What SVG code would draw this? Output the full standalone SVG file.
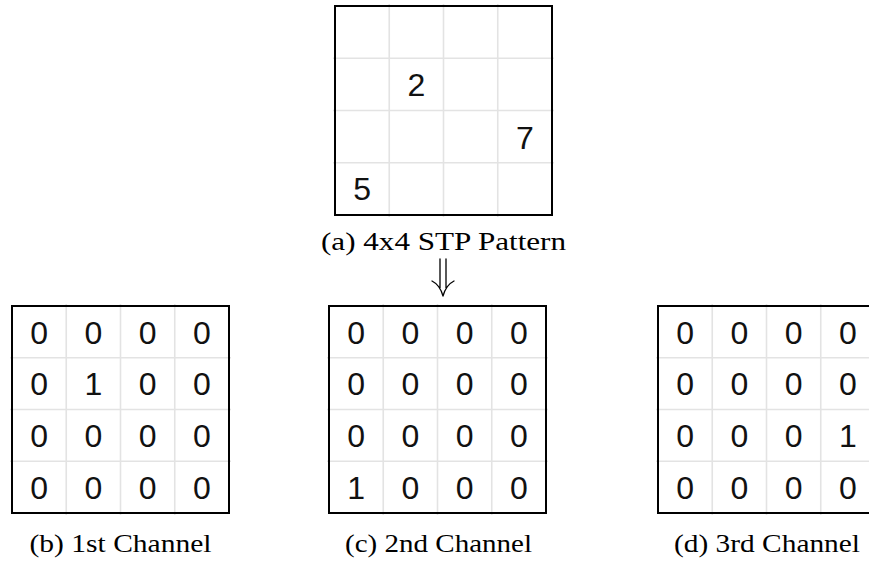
<svg xmlns="http://www.w3.org/2000/svg" width="869" height="563" viewBox="0 0 869 563">
<style>
.bg{fill:#ffffff}
.grid{stroke:#e3e3e3;stroke-width:1.6;fill:none}
.frame{stroke:#000000;stroke-width:2;fill:none}
.num{font-family:"Liberation Sans",Arial,sans-serif;font-size:32px;fill:#111111;text-anchor:middle}
.cap{font-family:"Liberation Serif","Times New Roman",serif;font-size:25px;fill:#000000;text-anchor:middle}
.arrow{stroke:#000000;stroke-width:1.3;fill:none;stroke-linecap:round;stroke-linejoin:round}
</style>
<rect class="bg" x="0" y="0" width="869" height="563"/>

<g id="pattern">
  <path class="grid" d="M389.25,4V217M443.5,4V217M497.75,4V217M333,58.25H554M333,110.5H554M333,162.75H554"/>
  <rect class="frame" x="335" y="6" width="217" height="209"/>
  <text class="num" x="416.4" y="96">2</text>
  <text class="num" x="524.9" y="149">7</text>
  <text class="num" x="362.1" y="200">5</text>
  <text class="cap" x="443.5" y="250" textLength="245" lengthAdjust="spacingAndGlyphs">(a) 4x4 STP Pattern</text>
</g>

<g id="channel1">
  <path class="grid" d="M66.25,304V515M120.5,304V515M174.75,304V515M10,357.75H231M10,409.5H231M10,461.25H231"/>
  <rect class="frame" x="12" y="306" width="217" height="207"/>
  <g class="num">
    <text x="39.1" y="343.5">0</text><text x="93.4" y="343.5">0</text><text x="147.6" y="343.5">0</text><text x="201.9" y="343.5">0</text>
    <text x="39.1" y="395.2">0</text><text x="93.4" y="395.2">1</text><text x="147.6" y="395.2">0</text><text x="201.9" y="395.2">0</text>
    <text x="39.1" y="447">0</text><text x="93.4" y="447">0</text><text x="147.6" y="447">0</text><text x="201.9" y="447">0</text>
    <text x="39.1" y="498.7">0</text><text x="93.4" y="498.7">0</text><text x="147.6" y="498.7">0</text><text x="201.9" y="498.7">0</text>
  </g>
  <text class="cap" x="120.5" y="552" textLength="182" lengthAdjust="spacingAndGlyphs">(b) 1st Channel</text>
</g>

<g id="channel2">
  <path class="grid" d="M383.25,304V515M437.5,304V515M491.75,304V515M327,357.75H548M327,409.5H548M327,461.25H548"/>
  <rect class="frame" x="329" y="306" width="217" height="207"/>
  <g class="num">
    <text x="356.1" y="343.5">0</text><text x="410.4" y="343.5">0</text><text x="464.6" y="343.5">0</text><text x="518.9" y="343.5">0</text>
    <text x="356.1" y="395.2">0</text><text x="410.4" y="395.2">0</text><text x="464.6" y="395.2">0</text><text x="518.9" y="395.2">0</text>
    <text x="356.1" y="447">0</text><text x="410.4" y="447">0</text><text x="464.6" y="447">0</text><text x="518.9" y="447">0</text>
    <text x="356.1" y="498.7">1</text><text x="410.4" y="498.7">0</text><text x="464.6" y="498.7">0</text><text x="518.9" y="498.7">0</text>
  </g>
  <text class="cap" x="438.5" y="552" textLength="187" lengthAdjust="spacingAndGlyphs">(c) 2nd Channel</text>
</g>

<g id="channel3">
  <path class="grid" d="M712.25,304V515M766.5,304V515M820.75,304V515M656,357.75H877M656,409.5H877M656,461.25H877"/>
  <rect class="frame" x="658" y="306" width="217" height="207"/>
  <g class="num">
    <text x="685.1" y="343.5">0</text><text x="739.4" y="343.5">0</text><text x="793.6" y="343.5">0</text><text x="847.9" y="343.5">0</text>
    <text x="685.1" y="395.2">0</text><text x="739.4" y="395.2">0</text><text x="793.6" y="395.2">0</text><text x="847.9" y="395.2">0</text>
    <text x="685.1" y="447">0</text><text x="739.4" y="447">0</text><text x="793.6" y="447">0</text><text x="847.9" y="447">1</text>
    <text x="685.1" y="498.7">0</text><text x="739.4" y="498.7">0</text><text x="793.6" y="498.7">0</text><text x="847.9" y="498.7">0</text>
  </g>
  <text class="cap" x="767" y="552" textLength="186" lengthAdjust="spacingAndGlyphs">(d) 3rd Channel</text>
</g>

<g id="connectors">
  <path class="arrow" d="M440,259V288M446,259V288M432,281Q440,285 443,296Q446,285 454,281"/>
</g>
</svg>
